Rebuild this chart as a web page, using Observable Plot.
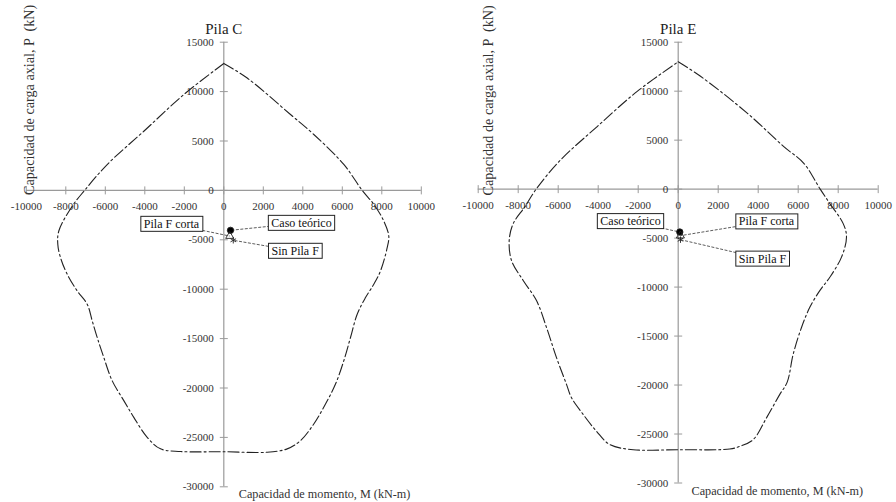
<!DOCTYPE html>
<html>
<head>
<meta charset="utf-8">
<script src="https://cdn.jsdelivr.net/npm/d3@7"></script>
<script src="https://cdn.jsdelivr.net/npm/@observablehq/plot@0.6"></script>
<style>
  html, body { margin: 0; padding: 0; background: #fff; }
  #wrap { display: flex; width: 896px; height: 502px; }
  #wrap svg { display: block; font-family: 'Liberation Serif', 'Times New Roman', serif; }
  #wrap svg text { font-family: 'Liberation Serif', 'Times New Roman', serif; }
</style>
</head>
<body>
<div id="wrap"></div>
<script>
// ---- tick values ----
const xTicks = [-10000, -8000, -6000, -4000, -2000, 0, 2000, 4000, 6000, 8000, 10000];
const yTicks = [15000, 10000, 5000, 0, -5000, -10000, -15000, -20000, -25000, -30000];

// ---- Pila C interaction diagram (M kN-m, P kN) ----
const pilaC_M = [0, 1185, 3377, 4557, 6076, 7008, 7595, 8101, 8354, 8273, 7934, 7595, 7175, 6754, 6415, 6076, 5656, 5149, 4557, 3884, 3210, 2197, 0, -2192, -3205, -3878, -4557, -5063, -5653, -6076, -6410, -6663, -6916, -7423, -7930, -8268, -8405, -8354, -7676, -7050, -5904, -4050, -2025, 0];
const pilaC_P = [12850, 11370, 7680, 5660, 2630, 0, -1410, -3100, -4620, -5800, -8150, -9500, -10850, -12530, -14890, -17240, -19600, -21620, -23640, -25320, -26160, -26500, -26450, -26430, -26160, -24990, -22970, -21280, -19260, -16910, -14890, -13200, -11520, -10170, -8480, -6800, -5450, -4110, -1600, 0, 2620, 5990, 9700, 12850];

// ---- Pila E interaction diagram ----
const pilaE_M = [0, 1115, 3450, 5280, 6280, 7100, 7580, 8250, 8415, 8165, 7580, 7080, 6580, 6165, 5750, 5450, 5080, 4415, 3750, 3080, 2580, 0, -2250, -3420, -4085, -4750, -5335, -5585, -6085, -6585, -7085, -7750, -8335, -8450, -8250, -7670, -7100, -5885, -4050, -2050, 0];
const pilaE_P = [13000, 11520, 7760, 4340, 2640, 0, -1470, -3520, -4890, -6940, -9000, -10360, -12070, -14120, -16850, -19700, -20950, -23350, -25570, -26260, -26530, -26600, -26600, -26080, -24720, -23000, -21300, -19930, -17200, -14120, -11380, -9330, -7280, -5230, -3520, -1810, 0, 2970, 6390, 9980, 13000];

// ---- cases (points) ----
const caseLabels = ["Caso teórico", "Pila F corta", "Sin Pila F"];
const caseSymbols = ["circle", "triangle", "asterisk"];
const pilaC_caseM = [340, 300, 480];
const pilaC_caseP = [-4040, -4620, -5050];
const pilaE_caseM = [80, 110, 115];
const pilaE_caseP = [-4380, -4750, -5160];

// ---- annotation label positions (data coords) ----
const pilaC_labelM = [3934, -2648, 3615];
const pilaC_labelP = [-3300, -3400, -6130];
const pilaE_labelM = [-2385, 4415, 4215];
const pilaE_labelP = [-3280, -3310, -7110];

const FONT = "Liberation Serif";
const vTick = { draw(ctx) { ctx.moveTo(0, -4); ctx.lineTo(0, 4); } };
const hTick = { draw(ctx) { ctx.moveTo(-4, 0); ctx.lineTo(4, 0); } };

function panel(cfg) {
  const idx = d3.range(cfg.M.length);
  const cases = d3.range(caseLabels.length);
  return Plot.plot({
    width: 448, height: 502,
    marginLeft: cfg.ml, marginRight: cfg.mr, marginTop: cfg.mt, marginBottom: cfg.mb,
    x: { domain: [-10000, 10000], axis: null },
    y: { domain: [-30000, 15000], axis: null },
    style: { fontSize: "11px", background: "#fff", color: "#222", overflow: "visible" },
    marks: [
      Plot.ruleY([0], { stroke: "#9a9a9a", strokeWidth: 1.2 }),
      Plot.ruleX([0], { stroke: "#9a9a9a", strokeWidth: 1.2 }),
      Plot.dot(xTicks, { x: d => d, y: () => 0, symbol: vTick, fill: "none", stroke: "#9a9a9a", strokeWidth: 1 }),
      Plot.dot(yTicks, { x: () => 0, y: d => d, symbol: hTick, fill: "none", stroke: "#9a9a9a", strokeWidth: 1 }),
      Plot.text(xTicks, { x: d => d, y: () => 0, text: d => String(d), dy: 16, fill: "#333", fontSize: 11, fontFamily: FONT }),
      Plot.text(yTicks, { x: () => 0, y: d => d, text: d => String(d), dx: -10, textAnchor: "end", fill: "#333", fontSize: 11, fontFamily: FONT }),
      Plot.line(idx, { x: i => cfg.M[i], y: i => cfg.P[i], curve: "catmull-rom", stroke: "#222", strokeWidth: 1.1, strokeDasharray: "11,3,2,3" }),
      Plot.link(cases, { x1: i => cfg.lM[i], y1: i => cfg.lP[i], x2: i => cfg.cM[i], y2: i => cfg.cP[i], stroke: "#333", strokeWidth: 0.8, strokeDasharray: "3,1.5" }),
      Plot.dot(cases, { x: i => cfg.cM[i], y: i => cfg.cP[i], symbol: i => caseSymbols[i], r: i => i === 0 ? 3.6 : 3.2,
        fill: i => i === 0 ? "#000" : "none", stroke: "#222", strokeWidth: 0.9 }),
      Plot.text(cases, { x: i => cfg.lM[i], y: i => cfg.lP[i], text: i => caseLabels[i], fontSize: 12, fill: "#111", fontFamily: FONT }),
      Plot.text([cfg.title], { x: () => 0, frameAnchor: "top", dy: cfg.titleDy, fontSize: 15, fill: "#222", fontFamily: FONT }),
      Plot.text(["Capacidad de carga axial, P  (kN)"], { frameAnchor: "top-left", rotate: -90, textAnchor: "end", dx: cfg.ytDx, dy: cfg.ytDy, fontSize: 14.2, fill: "#333", fontFamily: FONT }),
      Plot.text(["Capacidad de momento, M (kN-m)"], { x: () => 0, frameAnchor: "bottom", textAnchor: "start", dx: cfg.xtDx, dy: cfg.xtDy, fontSize: 12.2, fill: "#333", fontFamily: FONT })
    ]
  });
}

function addBoxes(svg) {
  Array.from(svg.querySelectorAll("text")).forEach(t => {
    if (!caseLabels.includes(t.textContent.trim())) return;
    const b = t.getBBox();
    const r = document.createElementNS("http://www.w3.org/2000/svg", "rect");
    r.setAttribute("x", b.x - 3);
    r.setAttribute("y", b.y - 0.5);
    r.setAttribute("width", b.width + 6);
    r.setAttribute("height", b.height + 1);
    r.setAttribute("fill", "#fff");
    r.setAttribute("stroke", "#222");
    r.setAttribute("stroke-width", "1");
    const tr = t.getAttribute("transform");
    if (tr) r.setAttribute("transform", tr);
    t.parentNode.insertBefore(r, t);
  });
}

const wrap = document.getElementById("wrap");
const left = panel({
  title: "Pila C", M: pilaC_M, P: pilaC_P,
  cM: pilaC_caseM, cP: pilaC_caseP, lM: pilaC_labelM, lP: pilaC_labelP,
  ml: 25.8, mr: 27.2, mt: 41.7, mb: 15.7,
  titleDy: -18.5, ytDx: -2, ytDy: -37.5, xtDx: 15, xtDy: 10.7
});
const right = panel({
  title: "Pila E", M: pilaE_M, P: pilaE_P,
  cM: pilaE_caseM, cP: pilaE_caseP, lM: pilaE_labelM, lP: pilaE_labelP,
  ml: 29.7, mr: 18.3, mt: 41.7, mb: 19.5,
  titleDy: -18.8, ytDx: 4.3, ytDy: -37, xtDx: 13.3, xtDy: 12
});
wrap.appendChild(left);
wrap.appendChild(right);
addBoxes(left);
addBoxes(right);
</script>
</body>
</html>
